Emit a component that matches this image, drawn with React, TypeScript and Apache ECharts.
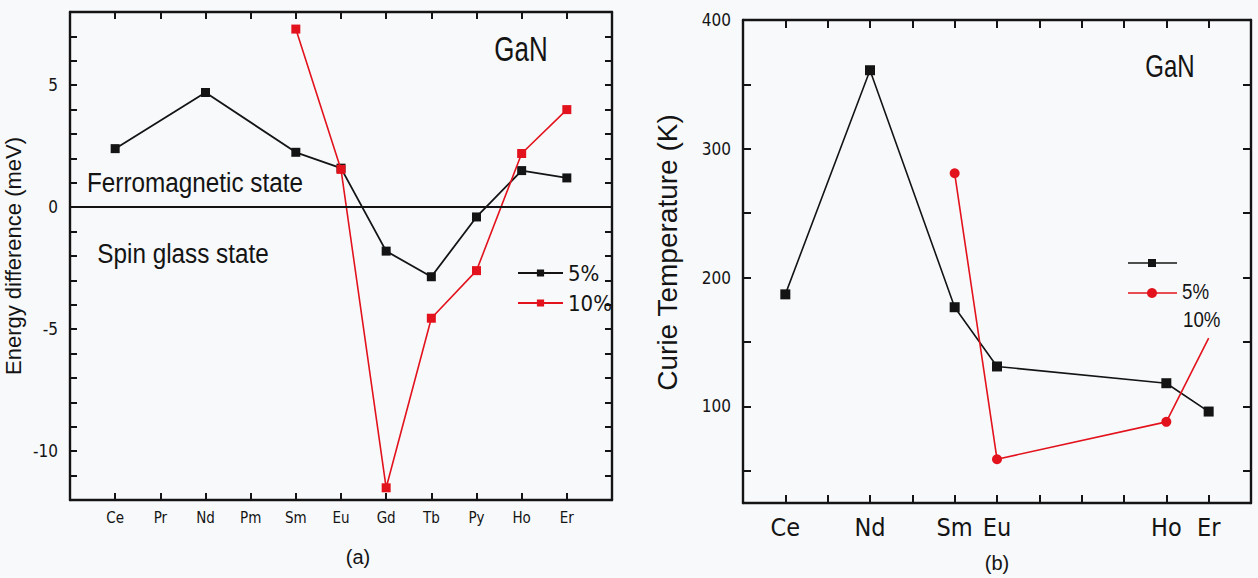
import React, { useEffect, useRef } from 'react';
import * as echarts from 'echarts';

// ---------- Panel (a) data ----------
const elementsA = ['Ce', 'Pr', 'Nd', 'Pm', 'Sm', 'Eu', 'Gd', 'Tb', 'Py', 'Ho', 'Er'];
const energy5 = [2.4, null, 4.7, null, 2.25, 1.6, -1.8, -2.85, -0.4, 1.5, 1.2];
const energy10 = [null, null, null, null, 7.3, 1.55, -11.5, -4.55, -2.6, 2.2, 4.0];
const yLabelsA = [-10, -5, 0, 5];

// ---------- Panel (b) data ----------
const elementsB = ['Ce', 'Nd', 'Sm', 'Eu', 'Ho', 'Er'];
const atomicB = [58, 60, 62, 63, 67, 68];
const curie5 = [187, 361, 177, 131, 118, 96];
const curie10 = [null, null, 281, 59, 88, 153];
const yLabelsB = [100, 200, 300, 400];

const BLACK = '#141414';
const RED = '#e3131d';
const NARROW = "'Liberation Sans Narrow', 'DejaVu Sans Condensed', 'Liberation Sans', Arial, sans-serif";
const SANS = "'Liberation Sans', Arial, sans-serif";

export default function App() {
  const ref = useRef<HTMLDivElement>(null);

  useEffect(() => {
    if (!ref.current) return;
    const chart = echarts.init(ref.current, null, { renderer: 'svg' });

    const pairsA = (vals: (number | null)[]) =>
      vals.map((v, i) => (v === null ? null : [i + 1, v])).filter((p) => p !== null);
    const pairsB = (vals: (number | null)[]) =>
      vals.map((v, i) => (v === null ? null : [atomicB[i], v])).filter((p) => p !== null);

    const axisLine = { show: true, onZero: false, lineStyle: { color: BLACK, width: 2.4 } };
    const tickA = Array.from({ length: 21 }, (_, i) => -12 + i);
    const tickB = Array.from({ length: 8 }, (_, i) => 50 + i * 50);
    const tickStyle = { color: BLACK, width: 2 };

    const curie10Data = pairsB(curie10).map((p: any) =>
      p[0] === 68 ? { value: p, symbol: 'none' } : p
    );

    const option: any = {
      animation: false,
      backgroundColor: '#f7f9fb',
      grid: [
        { left: 70, top: 12, width: 542, height: 488 },
        { left: 743, top: 20, width: 508, height: 483 },
      ],
      xAxis: [
        {
          type: 'value', gridIndex: 0, min: 0, max: 12, interval: 1, position: 'bottom',
          axisLine, splitLine: { show: false },
          axisTick: { show: true, inside: true, length: 7, lineStyle: tickStyle },
          axisLabel: {
            margin: 10, color: BLACK, fontSize: 15, fontFamily: NARROW,
            formatter: (v: number) => (v >= 1 && v <= 11 ? elementsA[v - 1] : ''),
          },
        },
        {
          type: 'value', gridIndex: 0, min: 0, max: 12, interval: 1, position: 'top',
          axisLine, splitLine: { show: false },
          axisTick: { show: true, inside: true, length: 7, lineStyle: tickStyle },
          axisLabel: { show: false },
        },
        {
          type: 'value', gridIndex: 1, min: 57, max: 69, interval: 1, position: 'bottom',
          axisLine, splitLine: { show: false },
          axisTick: { show: true, inside: true, length: 8, lineStyle: tickStyle },
          axisLabel: {
            margin: 12, color: BLACK, fontSize: 25, fontFamily: NARROW,
            formatter: (v: number) => {
              const i = atomicB.indexOf(v);
              return i >= 0 ? elementsB[i] : '';
            },
          },
        },
        {
          type: 'value', gridIndex: 1, min: 57, max: 69, interval: 1, position: 'top',
          axisLine, splitLine: { show: false },
          axisTick: { show: true, inside: true, length: 8, lineStyle: tickStyle },
          axisLabel: { show: false },
        },
      ],
      yAxis: [
        {
          type: 'value', gridIndex: 0, min: -12, max: 8, interval: 1, position: 'left',
          axisLine, splitLine: { show: false },
          axisTick: { show: true, inside: true, length: 7, customValues: tickA, lineStyle: tickStyle },
          axisLabel: {
            margin: 12, color: BLACK, fontSize: 17, fontFamily: NARROW, customValues: yLabelsA,
            formatter: (v: number) => (yLabelsA.indexOf(v) >= 0 ? String(v) : ''),
          },
          name: 'Energy difference (meV)', nameLocation: 'middle', nameGap: 46, nameRotate: 90,
          nameTextStyle: { color: BLACK, fontSize: 22, fontFamily: SANS },
        },
        {
          type: 'value', gridIndex: 0, min: -12, max: 8, interval: 1, position: 'right',
          axisLine, splitLine: { show: false },
          axisTick: { show: true, inside: true, length: 7, customValues: tickA, lineStyle: tickStyle },
          axisLabel: { show: false },
        },
        {
          type: 'value', gridIndex: 1, min: 25, max: 400, interval: 25, position: 'left',
          axisLine, splitLine: { show: false },
          axisTick: { show: true, inside: true, length: 8, customValues: tickB, lineStyle: tickStyle },
          axisLabel: {
            margin: 12, color: BLACK, fontSize: 17, fontFamily: NARROW, customValues: yLabelsB,
            formatter: (v: number) => (yLabelsB.indexOf(v) >= 0 ? String(v) : ''),
          },
          name: 'Curie Temperature (K)', nameLocation: 'middle', nameGap: 62, nameRotate: 90,
          nameTextStyle: { color: BLACK, fontSize: 28, fontFamily: SANS, padding: [0, 0, 0, 18] },
        },
        {
          type: 'value', gridIndex: 1, min: 25, max: 400, interval: 25, position: 'right',
          axisLine, splitLine: { show: false },
          axisTick: { show: true, inside: true, length: 8, customValues: tickB, lineStyle: tickStyle },
          axisLabel: { show: false },
        },
      ],
      legend: {
        orient: 'vertical', left: 512, top: 257, itemWidth: 45, itemHeight: 9, itemGap: 8,
        data: ['5%', '10%'],
        textStyle: { color: BLACK, fontSize: 22, fontFamily: NARROW },
      },
      series: [
        {
          name: '5%', type: 'line', xAxisIndex: 0, yAxisIndex: 0, data: pairsA(energy5),
          connectNulls: true, symbol: 'rect', symbolSize: 9,
          lineStyle: { color: BLACK, width: 1.8 }, itemStyle: { color: BLACK },
          markLine: {
            silent: true, symbol: 'none', label: { show: false },
            lineStyle: { color: BLACK, width: 2, type: 'solid' },
            data: [{ yAxis: 0 }],
          },
          z: 3,
        },
        {
          name: '10%', type: 'line', xAxisIndex: 0, yAxisIndex: 0, data: pairsA(energy10),
          connectNulls: true, symbol: 'rect', symbolSize: 9,
          lineStyle: { color: RED, width: 1.6 }, itemStyle: { color: RED }, z: 4,
        },
        {
          name: 'Tc 5%', type: 'line', xAxisIndex: 2, yAxisIndex: 2, data: pairsB(curie5),
          symbol: 'rect', symbolSize: 10,
          lineStyle: { color: BLACK, width: 1.6 }, itemStyle: { color: BLACK }, z: 3,
        },
        {
          name: 'Tc 10%', type: 'line', xAxisIndex: 2, yAxisIndex: 2, data: curie10Data,
          symbol: 'circle', symbolSize: 10,
          lineStyle: { color: RED, width: 1.6 }, itemStyle: { color: RED }, z: 4,
        },
      ],
      graphic: [
        { type: 'text', x: 521, y: 49, scaleX: 0.72, style: { text: 'GaN', fill: BLACK, font: `36px ${SANS}`, align: 'center', verticalAlign: 'middle' } },
        { type: 'text', x: 195, y: 183, scaleX: 0.9, style: { text: 'Ferromagnetic state', fill: BLACK, font: `27px ${SANS}`, align: 'center', verticalAlign: 'middle' } },
        { type: 'text', x: 183, y: 254, scaleX: 0.9, style: { text: 'Spin glass state', fill: BLACK, font: `27px ${SANS}`, align: 'center', verticalAlign: 'middle' } },
        { type: 'text', x: 358, y: 557, style: { text: '(a)', fill: BLACK, font: `20px ${SANS}`, align: 'center', verticalAlign: 'middle' } },
        { type: 'text', x: 1170, y: 66, scaleX: 0.75, style: { text: 'GaN', fill: BLACK, font: `32px ${SANS}`, align: 'center', verticalAlign: 'middle' } },
        { type: 'text', x: 997, y: 563, style: { text: '(b)', fill: BLACK, font: `20px ${SANS}`, align: 'center', verticalAlign: 'middle' } },
        // right-panel legend, as drawn in the original
        { type: 'line', shape: { x1: 1128, y1: 263, x2: 1177, y2: 263 }, style: { stroke: BLACK, lineWidth: 1.6 } },
        { type: 'rect', shape: { x: 1148, y: 259, width: 8, height: 8 }, style: { fill: BLACK } },
        { type: 'line', shape: { x1: 1128, y1: 293, x2: 1177, y2: 293 }, style: { stroke: RED, lineWidth: 1.6 } },
        { type: 'circle', shape: { cx: 1152, cy: 293, r: 5 }, style: { fill: RED } },
        { type: 'text', x: 1182, y: 291, scaleX: 0.85, style: { text: '5%', fill: BLACK, font: `22px ${SANS}`, align: 'left', verticalAlign: 'middle' } },
        { type: 'text', x: 1183, y: 319, scaleX: 0.85, style: { text: '10%', fill: BLACK, font: `22px ${SANS}`, align: 'left', verticalAlign: 'middle' } },
      ],
    };

    chart.setOption(option);
    return () => chart.dispose();
  }, []);

  return (
    <div
      ref={ref}
      style={{ position: 'absolute', left: 0, top: 0, width: 1258, height: 578 }}
    />
  );
}
